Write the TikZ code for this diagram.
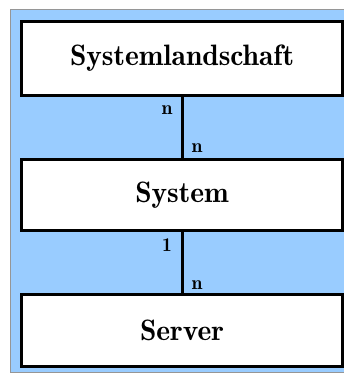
\documentclass[tikz,border=0pt]{standalone}
\usepackage{fontspec}
\newfontfamily\demifont{lmromandemi10-regular.otf}
\begin{document}
\begin{tikzpicture}[x=1pt,y=-1pt,
  entity/.style={draw=black, line width=3pt, fill=white, minimum width=321pt, inner sep=0pt, font=\fontsize{29.5}{35}\selectfont\demifont},
  conn/.style={draw=black, line width=3pt},
  card/.style={font=\fontsize{19.5}{22}\selectfont\demifont, inner sep=0pt, anchor=base}]
\useasboundingbox (0,0) rectangle (344,376);
\path[fill={rgb,255:red,153;green,204;blue,255}, draw={rgb,255:red,150;green,150;blue,150}, line width=0.8pt] (10.5,9.5) rectangle (360,372.5);
\node[entity, minimum height=74pt] (land) at (182,58.5) {Systemlandschaft};
\node[entity, minimum height=71pt] (sys) at (182,195) {System};
\node[entity, minimum height=72pt] (srv) at (182,330.5) {Server};
\draw[conn] (land.south) -- (sys.north);
\draw[conn] (sys.south) -- (srv.north);
\node[card] (c1) at (167,114) {n};
\node[card] (c2) at (197,152) {n};
\node[card] (c3) at (167,251) {1};
\node[card] (c4) at (197,289) {n};
\end{tikzpicture}
\end{document}
